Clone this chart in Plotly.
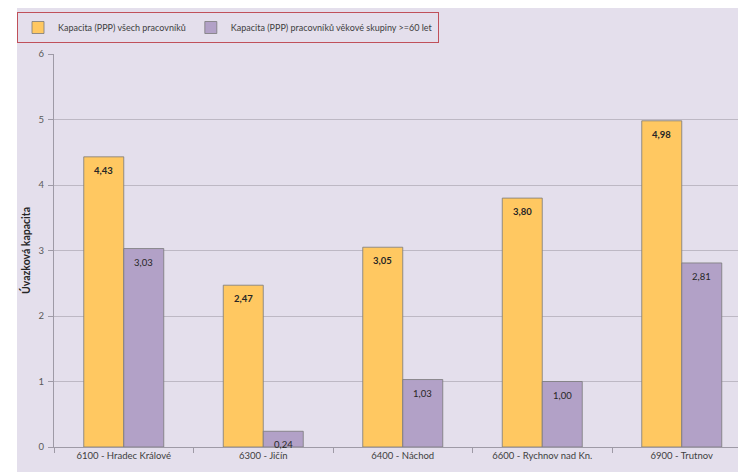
import plotly.graph_objects as go

# Data
districts = ["6100 - Hradec Králové", "6300 - Jičín", "6400 - Náchod",
             "6600 - Rychnov nad Kn.", "6900 - Trutnov"]
capacity_all = [4.43, 2.47, 3.05, 3.80, 4.98]
capacity_60plus = [3.03, 0.24, 1.03, 1.00, 2.81]
series_names = ["Kapacita (PPP) všech pracovníků",
                "Kapacita (PPP) pracovníků věkové skupiny >=60 let"]
y_ticks = [0, 1, 2, 3, 4, 5, 6]

# Styling
W, H = 738, 472
ML, MR, MT, MB = 54, 0, 54, 25
BG = "#e4dfec"
ORANGE = "#ffc861"
PURPLE = "#b2a1c7"
GRID = "#bdb8c4"
TEXT = "#404040"
FONT = "Lato, 'Open Sans', sans-serif"

fig = go.Figure()
fig.add_trace(go.Bar(
    name=series_names[0], x=districts, y=capacity_all,
    marker=dict(color=ORANGE, line=dict(color="#7a7a7a", width=0.8)),
))
fig.add_trace(go.Bar(
    name=series_names[1], x=districts, y=capacity_60plus,
    marker=dict(color=PURPLE, line=dict(color="#7a7a7a", width=0.8)),
))

# value labels inside the top of each bar
def fmt(v):
    return f"{v:.2f}".replace(".", ",")

annotations = []
for cat, a, b in zip(districts, capacity_all, capacity_60plus):
    annotations.append(dict(x=cat, y=a, xref="x", yref="y", text=f"<b>{fmt(a)}</b>",
                            showarrow=False, yanchor="top", yshift=-6, xshift=-20,
                            font=dict(size=9.5, color="#262626", family=FONT)))
    annotations.append(dict(x=cat, y=b, xref="x", yref="y", text=fmt(b),
                            showarrow=False, yanchor="top", yshift=-6, xshift=20,
                            font=dict(size=9.5, color="#262626", family=FONT)))

plot_w = W - ML - MR
plot_h = H - MT - MB

def px_x(p):
    return (p - ML) / plot_w

def px_y(p):
    return (H - MB - p) / plot_h

shapes = [
    # white frame strips along the top and left edges
    dict(type="rect", xref="paper", yref="paper", layer="below",
         x0=px_x(0), x1=px_x(17), y0=px_y(H), y1=px_y(0),
         fillcolor="white", line=dict(width=0)),
    dict(type="rect", xref="paper", yref="paper", layer="below",
         x0=px_x(0), x1=px_x(W), y0=px_y(8), y1=px_y(0),
         fillcolor="white", line=dict(width=0)),
]

fig.update_layout(
    width=W, height=H,
    margin=dict(l=ML, r=MR, t=MT, b=MB),
    paper_bgcolor=BG, plot_bgcolor=BG,
    barmode="group", bargap=0.4265, bargroupgap=0,
    font=dict(family=FONT, size=9.5, color=TEXT),
    shapes=shapes, annotations=annotations,
    showlegend=True,
    legend=dict(
        orientation="h", xref="container", yref="container",
        x=17 / W, y=1 - 12 / H, xanchor="left", yanchor="top",
        bgcolor=BG, bordercolor="#c0505a", borderwidth=1,
        font=dict(size=9, color=TEXT, family=FONT),
        itemwidth=30,
    ),
    xaxis=dict(
        range=[-0.5, -0.5 + plot_w / 139.5],
        showline=True, linecolor="#9e9aa6", linewidth=1,
        ticks="outside", tickson="boundaries", ticklen=5, tickcolor="#9e9aa6",
        showgrid=False, tickfont=dict(size=9.5, color=TEXT),
    ),
    yaxis=dict(
        range=[0, 6], tickvals=y_ticks, ticktext=[str(t) for t in y_ticks],
        showline=True, linecolor="#9e9aa6", linewidth=1,
        ticks="outside", ticklen=5, tickcolor="#9e9aa6",
        showgrid=True, gridcolor=GRID, gridwidth=1, zeroline=False,
        tickfont=dict(size=9.5, color="#595959"),
        ticklabelstandoff=2,
        title=dict(text="<b>Úvazková kapacita</b>", standoff=5,
                   font=dict(size=10.5, color="#262626")),
    ),
)

fig.write_html("out.html")
